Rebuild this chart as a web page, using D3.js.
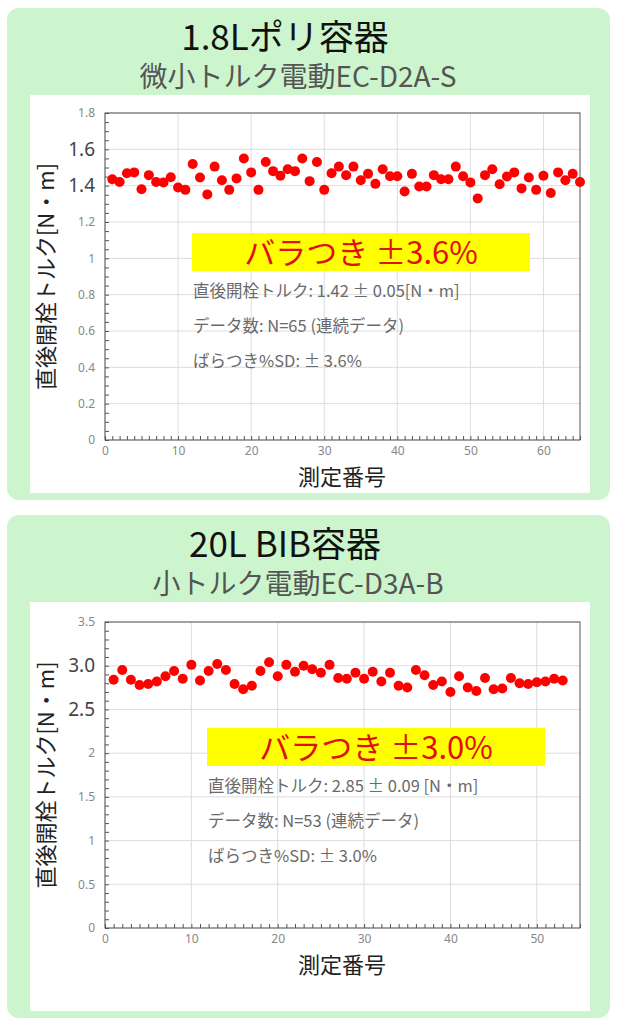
<!DOCTYPE html>
<html><head><meta charset="utf-8">
<script src="https://cdn.jsdelivr.net/npm/d3@7"></script>
<style>body{margin:0;background:#fff}</style>
</head><body><div id="chart"></div>
<script>
// Chart 1: 1.8L poly container
const torque1 = [1.435,1.42,1.468,1.473,1.38,1.458,1.42,1.418,1.446,1.39,1.377,1.519,1.445,1.352,1.505,1.43,1.377,1.44,1.55,1.473,
  1.377,1.53,1.48,1.455,1.49,1.48,1.55,1.425,1.53,1.377,1.468,1.505,1.458,1.505,1.43,1.465,1.41,1.49,1.452,1.452,
  1.368,1.465,1.395,1.395,1.458,1.435,1.435,1.505,1.452,1.418,1.33,1.458,1.49,1.408,1.45,1.473,1.385,1.445,1.377,1.455,
  1.36,1.473,1.43,1.465,1.42];
const yTicks1 = [0,0.2,0.4,0.6,0.8,1,1.2,1.4,1.6,1.8];
const yLabels1 = ["0","0.2","0.4","0.6","0.8","1","1.2","1.4","1.6","1.8"];
// Chart 2: 20L BIB container
const torque2 = [2.84,2.95,2.84,2.78,2.79,2.82,2.88,2.94,2.85,3.01,2.83,2.94,3.02,2.95,2.79,2.73,2.77,2.94,3.04,2.88,
  3.01,2.93,3.0,2.96,2.92,3.01,2.86,2.85,2.92,2.85,2.93,2.82,2.92,2.77,2.75,2.95,2.89,2.78,2.82,2.7,
  2.88,2.75,2.71,2.86,2.73,2.74,2.86,2.8,2.79,2.81,2.82,2.85,2.83];
const yTicks2 = [0,0.5,1,1.5,2,2.5,3,3.5];
const yLabels2 = ["0","0.5","1","1.5","2","2.5","3.0","3.5"];

const W = 619, H = 1024;
const svg = d3.select("#chart").append("svg").attr("width", W).attr("height", H)
  .style("font-family", "'Noto Sans CJK JP', sans-serif");

function drawPanel(cfg){
  const g = svg.append("g");
  g.append("rect").attr("x", 7).attr("y", cfg.top).attr("width", 603).attr("height", cfg.h)
    .attr("rx", 12).attr("fill", "#cdf5cd");
  g.append("text").attr("x", 285).attr("y", cfg.top + 42).attr("text-anchor", "middle")
    .attr("font-size", 35).attr("fill", "#111").text(cfg.title);
  g.append("text").attr("x", 298).attr("y", cfg.top + 79).attr("text-anchor", "middle")
    .attr("font-size", 28).attr("fill", "#555").text(cfg.sub);
  g.append("rect").attr("x", 30).attr("y", cfg.top + 87).attr("width", 560).attr("height", cfg.h - 94)
    .attr("fill", "#fff");

  const x = d3.scaleLinear().domain([0, cfg.xMax]).range([105, 580]);
  const y = d3.scaleLinear().domain([0, cfg.yMax]).range([cfg.py1, cfg.py0]);

  // grid
  g.selectAll(".gy").data(cfg.yTicks).join("line")
    .attr("x1", 105).attr("x2", 580).attr("y1", d => y(d)).attr("y2", d => y(d))
    .attr("stroke", "#ddd");
  g.selectAll(".gx").data(d3.range(0, cfg.xMax, 10)).join("line")
    .attr("y1", cfg.py0).attr("y2", cfg.py1).attr("x1", d => x(d)).attr("x2", d => x(d))
    .attr("stroke", "#ddd");
  g.append("rect").attr("x", 105).attr("y", cfg.py0).attr("width", 475).attr("height", cfg.py1 - cfg.py0)
    .attr("fill", "none").attr("stroke", "#555");

  // minor ticks
  g.append("g").attr("transform", `translate(0,${cfg.py1})`)
    .call(d3.axisBottom(x).ticks(cfg.xMax).tickSize(4).tickFormat(""))
    .call(a => a.select(".domain").remove()).selectAll("line").attr("stroke", "#555").attr("transform", "translate(0,-4)");
  g.append("g").attr("transform", "translate(105,0)")
    .call(d3.axisRight(y).tickValues(d3.range(0, cfg.yMax + 1e-9, cfg.yMinor)).tickSize(4).tickFormat(""))
    .call(a => a.select(".domain").remove()).selectAll("line").attr("stroke", "#555");

  // labels
  const xa = g.append("g").attr("transform", `translate(0,${cfg.py1})`)
    .call(d3.axisBottom(x).tickValues(d3.range(0, cfg.xMax, 10)).tickSize(0).tickPadding(6));
  xa.select(".domain").remove();
  xa.selectAll("text").attr("font-size", 12).attr("fill", "#888").attr("font-family", "'Noto Sans', sans-serif");
  const ya = g.append("g").attr("transform", "translate(105,0)")
    .call(d3.axisLeft(y).tickValues(cfg.yTicks).tickSize(0).tickPadding(10).tickFormat((d, i) => cfg.yLabels[i]));
  ya.select(".domain").remove();
  ya.selectAll("text").attr("font-size", 12).attr("fill", "#888").attr("font-family", "'Noto Sans', sans-serif");
  ya.selectAll("text").filter((d, i) => i === cfg.bigTick[0] || i === cfg.bigTick[1])
    .attr("font-size", 19).attr("fill", "#444");

  g.append("text").attr("transform", `translate(54,${(cfg.py0 + cfg.py1) / 2}) rotate(-90)`)
    .attr("text-anchor", "middle").attr("font-size", 22).attr("fill", "#222").text("直後開栓トルク[N・m]");
  g.append("text").attr("x", 342).attr("y", cfg.py1 + 45).attr("text-anchor", "middle")
    .attr("font-size", 22).attr("fill", "#222").text("測定番号");

  // points
  g.selectAll(".pt").data(cfg.data).join("circle")
    .attr("cx", (d, i) => x(i + 1)).attr("cy", d => y(d)).attr("r", 5).attr("fill", "#f00");

  // annotation
  g.append("rect").attr("x", cfg.bx).attr("y", cfg.by).attr("width", 338).attr("height", 38).attr("fill", "#ffff00");
  g.append("text").attr("x", cfg.bx + 169).attr("y", cfg.by + 31).attr("text-anchor", "middle")
    .attr("font-size", 31).attr("fill", "#e01010").text(cfg.big);
  cfg.lines.forEach((t, i) => {
    g.append("text").attr("x", cfg.bx + 1).attr("y", cfg.by + 64 + i * 35)
      .attr("font-size", 16.5).attr("fill", "#6a6a6a").text(t);
  });
}

drawPanel({top: 8, h: 492, title: "1.8Lポリ容器", sub: "微小トルク電動EC-D2A-S",
  xMax: 65, yMax: 1.8, py0: 113, py1: 440, yTicks: yTicks1, yLabels: yLabels1, yMinor: 0.05, bigTick: [7, 8],
  data: torque1, bx: 192, by: 233, big: "バラつき ±3.6%",
  lines: ["直後開栓トルク:  1.42 ± 0.05[N・m]", "データ数:  N=65 (連続データ)", "ばらつき%SD:  ± 3.6%"]});
drawPanel({top: 515, h: 503, title: "20L BIB容器", sub: "小トルク電動EC-D3A-B",
  xMax: 55, yMax: 3.5, py0: 622, py1: 928, yTicks: yTicks2, yLabels: yLabels2, yMinor: 0.1, bigTick: [5, 6],
  data: torque2, bx: 207, by: 728, big: "バラつき ±3.0%",
  lines: ["直後開栓トルク:  2.85 ± 0.09 [N・m]", "データ数:  N=53 (連続データ)", "ばらつき%SD:  ± 3.0%"]});
</script></body></html>
